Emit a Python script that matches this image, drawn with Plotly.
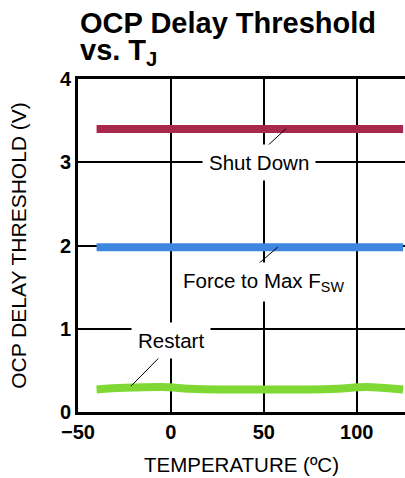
import plotly.graph_objects as go

# temperature points (deg C)
temp = [-40, -25, -5, 10, 25, 50, 75, 90, 105, 125]

# threshold values (V)
shut_down = [3.40, 3.40, 3.40, 3.40, 3.40, 3.40, 3.40, 3.40, 3.40, 3.40]
force_max_fsw = [1.98, 1.98, 1.98, 1.98, 1.98, 1.98, 1.98, 1.98, 1.98, 1.98]
restart = [0.27, 0.29, 0.30, 0.28, 0.27, 0.27, 0.27, 0.28, 0.30, 0.27]

x_ticks = [-50, 0, 50, 100]
y_ticks = [0, 1, 2, 3, 4]

FONT = "Liberation Sans, Arial, sans-serif"

fig = go.Figure()

series = [
    ("Shut Down", shut_down, "#A8284B", "linear"),
    ("Force to Max F<sub>SW</sub>", force_max_fsw, "#3E86E0", "linear"),
    ("Restart", restart, "#80D834", "spline"),
]
for name, vals, color, shape in series:
    fig.add_trace(go.Scatter(
        x=temp, y=vals, name=name, mode="lines",
        line=dict(color=color, width=8, shape=shape),
        showlegend=False,
    ))

# curve labels: (text, text position, leader tail, leader tip)
labels = [
    ("Shut Down", (47.3, 3.0), (47.8, 3.11), (61.8, 3.40)),
    ("Force to Max F<sub>SW</sub>", (50.0, 1.56), (41.4, 1.67), (57.5, 1.98)),
    ("Restart", (0.3, 0.86), (-1.6, 0.76), (-21.5, 0.31)),
]
for text, (tx, ty), (x0, y0), (x1, y1) in labels:
    fig.add_shape(type="line", x0=x0, y0=y0, x1=x1, y1=y1,
                  line=dict(color="black", width=1))
    fig.add_annotation(x=tx, y=ty, text=text, showarrow=False,
                       bgcolor="white", borderpad=6,
                       font=dict(family=FONT, size=20.5, color="black"))

# chart title, two lines
fig.add_annotation(xref="paper", yref="paper", x=0.0, y=(412 - 23) / 333,
                   xanchor="left", yanchor="middle", showarrow=False,
                   text="<b>OCP Delay Threshold</b>",
                   font=dict(family=FONT, size=29, color="black"))
fig.add_annotation(xref="paper", yref="paper", x=0.0, y=(412 - 52) / 333,
                   xanchor="left", yanchor="middle", showarrow=False,
                   text="<b>vs. T<sub>J</sub></b>",
                   font=dict(family=FONT, size=29, color="black"))

fig.update_layout(
    width=405, height=478,
    margin=dict(l=78, r=0, t=79, b=66),
    plot_bgcolor="white", paper_bgcolor="white",
    font=dict(family=FONT, color="black"),
)
fig.update_xaxes(
    range=[-50, 126], tickvals=x_ticks, ticks="",
    showgrid=True, gridcolor="black", gridwidth=2,
    showline=True, linecolor="black", linewidth=3, mirror=True,
    zeroline=False, automargin=False,
    tickfont=dict(family=FONT, size=20, color="black", weight="bold"),
    title=dict(text="TEMPERATURE (ºC)", standoff=16,
               font=dict(family=FONT, size=20.5, color="black")),
)
fig.update_yaxes(
    range=[0, 4], tickvals=y_ticks, ticks="",
    showgrid=True, gridcolor="black", gridwidth=2,
    showline=True, linecolor="black", linewidth=3,
    zeroline=False, automargin=False,
    tickfont=dict(family=FONT, size=20, color="black", weight="bold"),
    title=dict(text="OCP DELAY THRESHOLD (V)", standoff=28,
               font=dict(family=FONT, size=21, color="black")),
)

fig.write_html("out.html", config={"displayModeBar": False},
               post_script="document.body.style.margin='0';")
